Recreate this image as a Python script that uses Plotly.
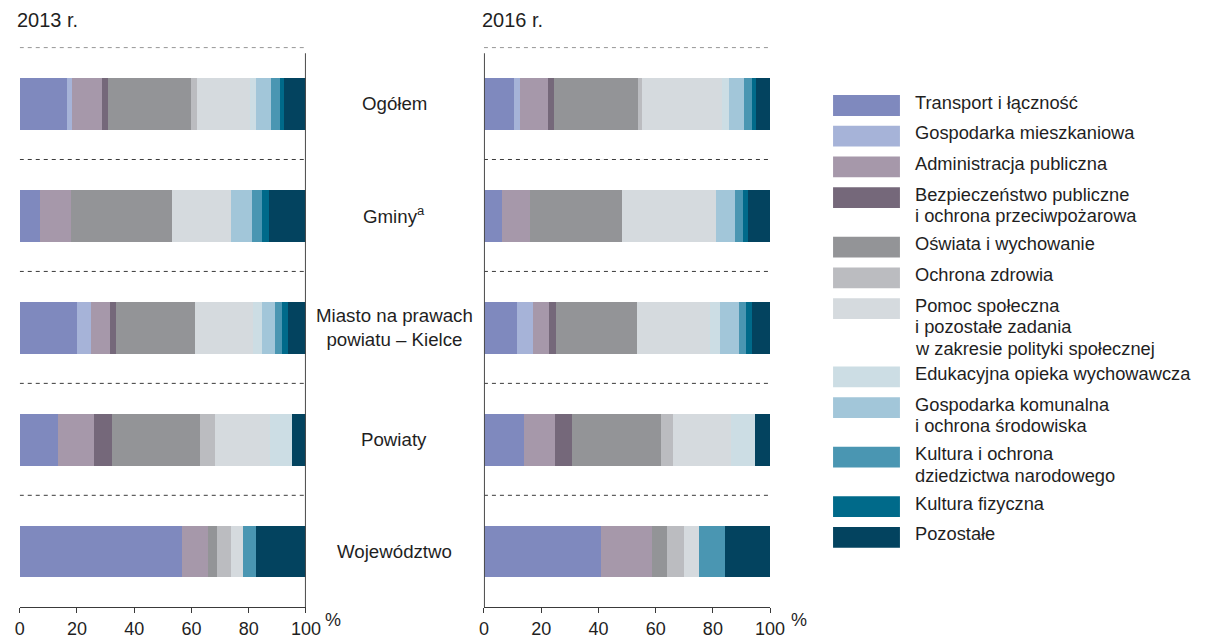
import plotly.graph_objects as go

W, H = 1208, 639

# Territorial units (rows, top to bottom)
units = ["Ogółem", "Gminy<sup>a</sup>", "Miasto na prawach<br>powiatu – Kielce", "Powiaty", "Województwo"]
year_titles = ["2013 r.", "2016 r."]
tick_values = [0, 20, 40, 60, 80, 100]
tick_labels = ["0", "20", "40", "60", "80", "100"]

# Expenditure categories (legend order = stacking order)
series_names = [
    "Transport i łączność",
    "Gospodarka mieszkaniowa",
    "Administracja publiczna",
    "Bezpieczeństwo publiczne\ni ochrona przeciwpożarowa",
    "Oświata i wychowanie",
    "Ochrona zdrowia",
    "Pomoc społeczna\ni pozostałe zadania\nw zakresie polityki społecznej",
    "Edukacyjna opieka wychowawcza",
    "Gospodarka komunalna\ni ochrona środowiska",
    "Kultura i ochrona\ndziedzictwa narodowego",
    "Kultura fizyczna",
    "Pozostałe",
]
series_colors = [
    "#7F89BE", "#A6B3D8", "#A698AA", "#75687A", "#939497", "#BBBCC0",
    "#D5DADE", "#CCDDE4", "#A2C6D9", "#4A96B2", "#006A8A", "#03435F",
]

# Shares in % — order of units: Ogółem, Gminy, Miasto, Powiaty, Województwo
transport_2013 = [16.5, 6.9, 19.9, 13.4, 56.7]
mieszkaniowa_2013 = [1.7, 0.0, 4.8, 0.0, 0.0]
administracja_2013 = [10.3, 11.0, 6.9, 12.4, 8.9]
bezpieczenstwo_2013 = [2.1, 0.0, 2.1, 6.2, 0.0]
oswiata_2013 = [29.2, 35.1, 27.5, 30.9, 3.1]
zdrowie_2013 = [2.1, 0.0, 0.0, 5.2, 5.2]
pomoc_2013 = [18.3, 20.6, 20.2, 19.2, 4.1]
edukacyjna_2013 = [2.3, 0.0, 3.1, 7.9, 0.0]
komunalna_2013 = [5.2, 7.6, 4.5, 0.0, 0.0]
kultura_2013 = [3.1, 3.4, 2.7, 0.0, 4.5]
fizyczna_2013 = [1.4, 2.4, 2.1, 0.0, 0.0]
pozostale_2013 = [7.8, 13.0, 6.2, 4.8, 17.5]

transport_2016 = [10.6, 6.2, 11.6, 14.1, 40.9]
mieszkaniowa_2016 = [2.1, 0.0, 5.5, 0.0, 0.0]
administracja_2016 = [9.6, 10.0, 5.5, 10.7, 17.9]
bezpieczenstwo_2016 = [2.1, 0.0, 2.7, 5.8, 0.0]
oswiata_2016 = [29.5, 32.0, 28.1, 31.3, 5.2]
zdrowie_2016 = [1.4, 0.0, 0.0, 4.1, 5.8]
pomoc_2016 = [27.7, 33.0, 25.7, 20.3, 5.2]
edukacyjna_2016 = [2.7, 0.0, 3.4, 8.3, 0.0]
komunalna_2016 = [5.1, 6.5, 6.5, 0.0, 0.0]
kultura_2016 = [2.7, 2.8, 2.4, 0.0, 9.3]
fizyczna_2016 = [1.7, 1.7, 2.4, 0.0, 0.0]
pozostale_2016 = [4.8, 7.8, 6.2, 5.4, 15.7]

values_2013 = [transport_2013, mieszkaniowa_2013, administracja_2013, bezpieczenstwo_2013,
               oswiata_2013, zdrowie_2013, pomoc_2013, edukacyjna_2013, komunalna_2013,
               kultura_2013, fizyczna_2013, pozostale_2013]
values_2016 = [transport_2016, mieszkaniowa_2016, administracja_2016, bezpieczenstwo_2016,
               oswiata_2016, zdrowie_2016, pomoc_2016, edukacyjna_2016, komunalna_2016,
               kultura_2016, fizyczna_2016, pozostale_2016]

FONT = "Arial, Liberation Sans, sans-serif"
TXT = "#1f1f1f"
LINE = "#3a3a3a"


def px_x(p):
    return p / W


def px_y(p):
    return 1 - p / H


fig = go.Figure()

for axis_x, axis_y, year_values in (("x", "y", values_2013), ("x2", "y2", values_2016)):
    for name, color, vals in zip(series_names, series_colors, year_values):
        fig.add_trace(go.Bar(
            y=units, x=vals, orientation="h", width=0.46,
            marker=dict(color=color, line=dict(width=0)),
            name=name.replace("\n", " "), showlegend=False,
            xaxis=axis_x, yaxis=axis_y, hoverinfo="x+name",
        ))

xaxis_common = dict(
    range=[0, 100], tickvals=tick_values, ticktext=tick_labels,
    ticks="outside", ticklen=5, tickwidth=1, tickcolor=LINE,
    showline=True, linecolor=LINE, linewidth=1,
    showgrid=False, zeroline=False, fixedrange=True,
    tickfont=dict(family=FONT, size=18, color=TXT),
)
yaxis_common = dict(
    type="category", categoryarray=units, range=[4.5, -0.5],
    showticklabels=False, showgrid=False, zeroline=False, showline=False,
    domain=[px_y(613), px_y(48)], fixedrange=True,
)

fig.update_layout(
    width=W, height=H,
    margin=dict(l=0, r=0, t=0, b=0),
    paper_bgcolor="white", plot_bgcolor="white",
    barmode="stack", bargap=0,
    xaxis=dict(domain=[px_x(15), px_x(306)], anchor="y", **xaxis_common),
    xaxis2=dict(domain=[px_x(487), px_x(778)], anchor="y2", **xaxis_common),
    yaxis=dict(anchor="x", **yaxis_common),
    yaxis2=dict(anchor="x2", **yaxis_common),
    font=dict(family=FONT, color=TXT),
)

shapes = []
annotations = []

# dashed separators between unit rows, and the vertical divider lines
for xr, yr, vx in (("x", "y", 100), ("x2", "y2", 0)):
    for k in range(len(units)):
        shapes.append(dict(type="line", xref=xr, yref=yr, x0=0, x1=100,
                           y0=k - 0.5, y1=k - 0.5,
                           line=dict(color=LINE, width=1, dash="4px,4px")))
    shapes.append(dict(type="line", xref=xr, yref=yr, x0=vx, x1=vx,
                       y0=-0.45, y1=4.5, line=dict(color="#4a4a4a", width=2)))

# year titles
for title, xp in zip(year_titles, (10, 483)):
    annotations.append(dict(text=title, xref="paper", yref="paper",
                            x=px_x(xp), y=px_y(20), xanchor="left", yanchor="middle",
                            showarrow=False, font=dict(size=20, family=FONT, color=TXT)))

# percent sign after the last tick
for xp in (334, 807):
    annotations.append(dict(text="%", xref="paper", yref="paper",
                            x=px_x(xp), y=px_y(626), xanchor="center", yanchor="middle",
                            showarrow=False, font=dict(size=18, family=FONT, color=TXT)))

# unit labels in the gap between the two panels
for i, unit in enumerate(units):
    annotations.append(dict(text=unit, xref="paper", yref="y", x=px_x(396), y=i,
                            xanchor="center", yanchor="middle", align="center",
                            showarrow=False, font=dict(size=18.7, family=FONT, color=TXT)))

# legend: colour swatches with (possibly multi-line) labels
top = 96
for name, color in zip(series_names, series_colors):
    lines = name.split("\n")
    shapes.append(dict(type="rect", xref="paper", yref="paper",
                       x0=px_x(842), x1=px_x(910), y0=px_y(top), y1=px_y(top + 21),
                       fillcolor=color, line=dict(width=0)))
    for k, ln in enumerate(lines):
        annotations.append(dict(text=ln, xref="paper", yref="paper",
                                x=px_x(923), y=px_y(top + 7 + 21.7 * k),
                                xanchor="left", yanchor="middle", showarrow=False,
                                font=dict(size=18.3, family=FONT, color=TXT)))
    top += 31 + 19 * (len(lines) - 1)

fig.update_layout(shapes=shapes, annotations=annotations)

fig.write_html("out.html")
